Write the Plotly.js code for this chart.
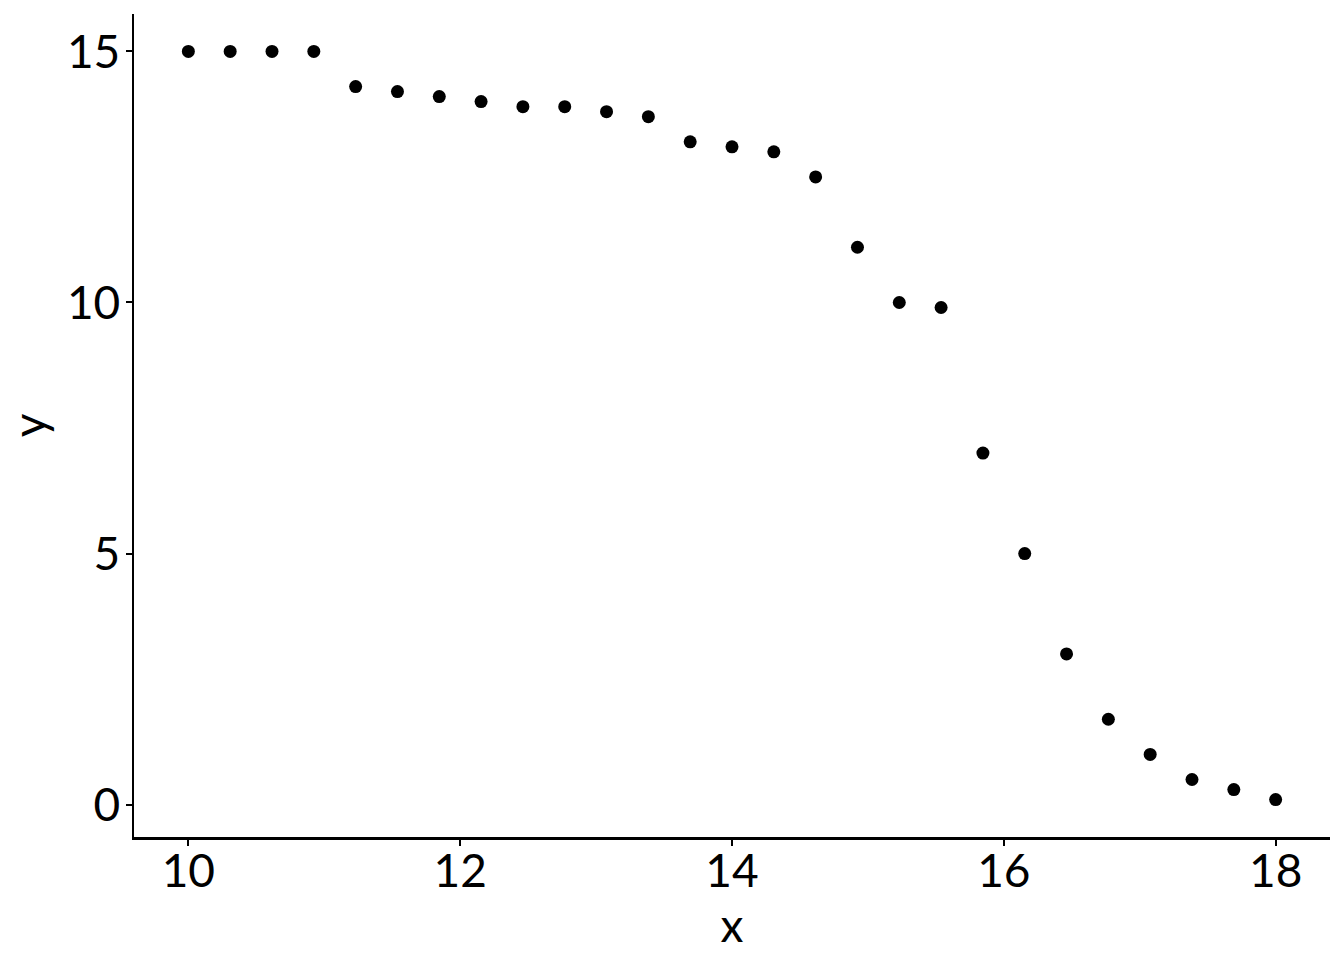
<!DOCTYPE html>
<html>
<head>
<meta charset="utf-8">
<script src="https://cdn.plot.ly/plotly-3.0.1.min.js"></script>
<style>html,body{margin:0;padding:0;background:#fff;}#chart{width:1344px;height:960px;}</style>
</head>
<body>
<div id="chart"></div>
<script>
const xValues = [10, 10.3077, 10.6154, 10.9231, 11.2308, 11.5385, 11.8462, 12.1538, 12.4615, 12.7692, 13.0769, 13.3846, 13.6923, 14, 14.3077, 14.6154, 14.9231, 15.2308, 15.5385, 15.8462, 16.1538, 16.4615, 16.7692, 17.0769, 17.3846, 17.6923, 18];
const yValues = [15, 15, 15, 15, 14.3, 14.2, 14.1, 14.0, 13.9, 13.9, 13.8, 13.7, 13.2, 13.1, 13.0, 12.5, 11.1, 10.0, 9.9, 7.0, 5.0, 3.0, 1.7, 1.0, 0.5, 0.3, 0.1];
const xTicks = [10, 12, 14, 16, 18];
const yTicks = [0, 5, 10, 15];

const font = {family: 'Lato, "DejaVu Sans", sans-serif', size: 46, color: '#000'};

Plotly.newPlot('chart', [{
  x: xValues, y: yValues, type: 'scatter', mode: 'markers',
  marker: {color: '#000', size: 13}
}], {
  width: 1344, height: 960,
  margin: {l: 134, r: 14, t: 14, b: 123},
  paper_bgcolor: '#fff', plot_bgcolor: '#fff',
  showlegend: false,
  font: font,
  xaxis: {
    range: [9.6, 18.4], tickvals: xTicks, ticktext: xTicks.map(String),
    showgrid: false, zeroline: false, showline: true, linecolor: '#000', linewidth: 2.5,
    ticks: 'outside', ticklen: 6, tickwidth: 2, tickcolor: '#000',
    ticklabelstandoff: -14,
    tickfont: font, title: {text: 'x', font: font, standoff: 0}
  },
  yaxis: {
    range: [-0.645, 15.745], tickvals: yTicks, ticktext: yTicks.map(String),
    showgrid: false, zeroline: false, showline: true, linecolor: '#000', linewidth: 2.5,
    ticks: 'outside', ticklen: 6, tickwidth: 2, tickcolor: '#000',
    ticklabelstandoff: -4,
    tickfont: font, title: {text: 'y', font: font, standoff: 6}
  }
}, {displayModeBar: false, staticPlot: true});
</script>
</body>
</html>
